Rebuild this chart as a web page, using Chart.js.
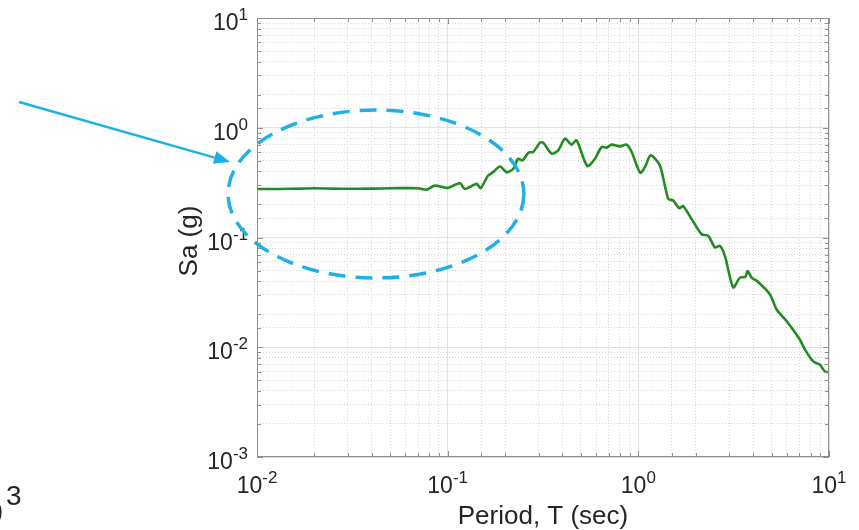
<!DOCTYPE html>
<html>
<head>
<meta charset="utf-8">
<script src="https://cdn.jsdelivr.net/npm/chart.js@4"></script>
<style>
  html, body { margin: 0; padding: 0; background: #fff; }
</style>
</head>
<body>
<canvas id="saChart" width="859" height="530"></canvas>
<script>
// --- data ---
const periods = [0.01, 0.013, 0.017, 0.02, 0.025, 0.03, 0.04, 0.05, 0.06, 0.07,
  0.0777, 0.0857, 0.1, 0.116, 0.123, 0.142, 0.149, 0.163, 0.173, 0.188,
  0.204, 0.221, 0.234, 0.247, 0.265, 0.281, 0.305, 0.317, 0.351, 0.38,
  0.412, 0.447, 0.474, 0.54, 0.592, 0.642, 0.682, 0.724, 0.801, 0.868,
  0.923, 1.022, 1.083, 1.16, 1.297, 1.435, 1.524, 1.639, 1.72, 1.904,
  2.148, 2.326, 2.522, 2.679, 2.845, 3.145, 3.41, 3.644, 3.74, 3.93,
  4.21, 4.9, 5.31, 6.0, 7.03, 7.48, 8.26, 8.96, 9.52, 10];
const sa = [0.277, 0.277, 0.279, 0.281, 0.279, 0.278, 0.279, 0.281, 0.282, 0.281,
  0.273, 0.297, 0.283, 0.313, 0.277, 0.308, 0.282, 0.367, 0.394, 0.444,
  0.394, 0.423, 0.522, 0.504, 0.593, 0.602, 0.732, 0.732, 0.581, 0.622,
  0.796, 0.702, 0.768, 0.448, 0.522, 0.668, 0.659, 0.702, 0.677, 0.702,
  0.602, 0.389, 0.438, 0.56, 0.453, 0.225, 0.217, 0.185, 0.193, 0.147,
  0.107, 0.1037, 0.0812, 0.0839, 0.068, 0.0351, 0.0431, 0.0438, 0.0495, 0.043,
  0.0399, 0.0303, 0.0221, 0.01726, 0.01175, 0.0095, 0.00743, 0.00693, 0.00601, 0.00589];

// axis limits (decades)
const xLimits = [0.01, 10];
const yLimits = [0.001, 10];

// annotation: dashed ellipse bounds and arrow, in data units
const ellipseX = [0.00705, 0.251];
const ellipseY = [0.0428, 1.45];
const arrowFrom = [0.000565, 1.717];
const arrowTo = [0.00722, 0.4876];

const TXT = '#262626';
const BLUE = '#1fb0e6';
const FONT = '"Liberation Sans", Arial, sans-serif';

function isDecade(v) {
  const l = Math.log10(v);
  return Math.abs(l - Math.round(l)) < 1e-6;
}

// 10 with superscript exponent
function drawPow(ctx, exp, x, y, align) {
  ctx.font = '23px ' + FONT;
  const wb = ctx.measureText('10').width;
  ctx.font = '17px ' + FONT;
  const we = ctx.measureText(String(exp)).width;
  let left = x;
  if (align === 'center') left = x - (wb + we) / 2;
  if (align === 'right') left = x - wb - we;
  ctx.textAlign = 'left';
  ctx.textBaseline = 'alphabetic';
  ctx.fillStyle = TXT;
  ctx.font = '23px ' + FONT;
  ctx.fillText('10', left, y);
  ctx.font = '17px ' + FONT;
  ctx.fillText(String(exp), left + wb, y - 10);
}

const matlabAxes = {
  id: 'matlabAxes',
  afterDraw(chart) {
    const ctx = chart.ctx;
    const a = chart.chartArea;
    const xs = chart.scales.x, ys = chart.scales.y;
    ctx.save();

    // box
    ctx.strokeStyle = '#8f8f8f';
    ctx.lineWidth = 1;
    ctx.strokeRect(a.left + 0.5, a.top + 0.5, a.right - a.left - 1, a.bottom - a.top - 1);

    // inner ticks on all four sides
    ctx.beginPath();
    xs.ticks.forEach(t => {
      const px = Math.round(xs.getPixelForValue(t.value)) + 0.5;
      const len = isDecade(t.value) ? 6 : 4;
      ctx.moveTo(px, a.bottom); ctx.lineTo(px, a.bottom - len);
      ctx.moveTo(px, a.top); ctx.lineTo(px, a.top + len);
    });
    ys.ticks.forEach(t => {
      const py = Math.round(ys.getPixelForValue(t.value)) + 0.5;
      const len = isDecade(t.value) ? 6 : 4;
      ctx.moveTo(a.left, py); ctx.lineTo(a.left + len, py);
      ctx.moveTo(a.right, py); ctx.lineTo(a.right - len, py);
    });
    ctx.stroke();

    // tick labels
    xs.ticks.forEach(t => {
      if (!isDecade(t.value)) return;
      drawPow(ctx, Math.round(Math.log10(t.value)), xs.getPixelForValue(t.value), a.bottom + 36, 'center');
    });
    ys.ticks.forEach(t => {
      if (!isDecade(t.value)) return;
      drawPow(ctx, Math.round(Math.log10(t.value)), a.left - 9, ys.getPixelForValue(t.value) + 12, 'right');
    });

    // axis titles
    ctx.fillStyle = TXT;
    ctx.font = '26px ' + FONT;
    ctx.textAlign = 'center';
    ctx.textBaseline = 'alphabetic';
    ctx.fillText('Period, T (sec)', (a.left + a.right) / 2, 524);
    ctx.save();
    ctx.translate(197, 241);
    ctx.rotate(-Math.PI / 2);
    ctx.fillText('Sa (g)', 0, 0);
    ctx.restore();

    // dashed ellipse
    const ex0 = xs.getPixelForValue(ellipseX[0]), ex1 = xs.getPixelForValue(ellipseX[1]);
    const ey0 = ys.getPixelForValue(ellipseY[1]), ey1 = ys.getPixelForValue(ellipseY[0]);
    ctx.strokeStyle = BLUE;
    ctx.lineWidth = 3.5;
    ctx.setLineDash([17, 10]);
    ctx.beginPath();
    ctx.ellipse((ex0 + ex1) / 2, (ey0 + ey1) / 2, (ex1 - ex0) / 2, (ey1 - ey0) / 2, 0, 0, Math.PI * 2);
    ctx.stroke();
    ctx.setLineDash([]);

    // arrow
    const ax0 = xs.getPixelForValue(arrowFrom[0]), ay0 = ys.getPixelForValue(arrowFrom[1]);
    const ax1 = xs.getPixelForValue(arrowTo[0]), ay1 = ys.getPixelForValue(arrowTo[1]);
    const ang = Math.atan2(ay1 - ay0, ax1 - ax0);
    const hl = 16, hw = 6.5;
    const bx = ax1 - hl * Math.cos(ang), by = ay1 - hl * Math.sin(ang);
    ctx.lineWidth = 2.5;
    ctx.beginPath();
    ctx.moveTo(ax0, ay0); ctx.lineTo(bx, by);
    ctx.stroke();
    ctx.fillStyle = BLUE;
    ctx.beginPath();
    ctx.moveTo(ax1, ay1);
    ctx.lineTo(bx + hw * Math.sin(ang), by - hw * Math.cos(ang));
    ctx.lineTo(bx - hw * Math.sin(ang), by + hw * Math.cos(ang));
    ctx.closePath();
    ctx.fill();

    // clipped label from a neighbouring panel
    ctx.fillStyle = TXT;
    ctx.textAlign = 'right';
    ctx.font = '34px ' + FONT;
    ctx.fillText('0', 3, 524);
    ctx.textAlign = 'left';
    ctx.font = '28px ' + FONT;
    ctx.fillText('3', 6, 505);

    ctx.restore();
  }
};

function gridColor(ctx) {
  return ctx.tick && isDecade(ctx.tick.value) ? '#e2e2e2' : '#d6d6d6';
}
function gridDash(ctx) {
  return ctx.tick && isDecade(ctx.tick.value) ? [] : [1, 2];
}

new Chart(document.getElementById('saChart'), {
  type: 'line',
  data: {
    datasets: [{
      data: periods.map((p, i) => ({ x: p, y: sa[i] })),
      borderColor: '#228b22',
      borderWidth: 2.6,
      pointRadius: 0,
      tension: 0.25,
      fill: false
    }]
  },
  options: {
    responsive: false,
    animation: false,
    events: [],
    layout: { padding: { left: 257, right: 30, top: 18, bottom: 73 } },
    plugins: { legend: { display: false }, tooltip: { enabled: false } },
    scales: {
      x: {
        type: 'logarithmic',
        min: xLimits[0], max: xLimits[1],
        ticks: { display: false, autoSkip: false },
        grid: { color: gridColor, drawTicks: false, lineWidth: 1 },
        border: { display: false, dash: gridDash }
      },
      y: {
        type: 'logarithmic',
        min: yLimits[0], max: yLimits[1],
        ticks: { display: false, autoSkip: false },
        grid: { color: gridColor, drawTicks: false, lineWidth: 1 },
        border: { display: false, dash: gridDash }
      }
    }
  },
  plugins: [matlabAxes]
});
</script>
</body>
</html>
